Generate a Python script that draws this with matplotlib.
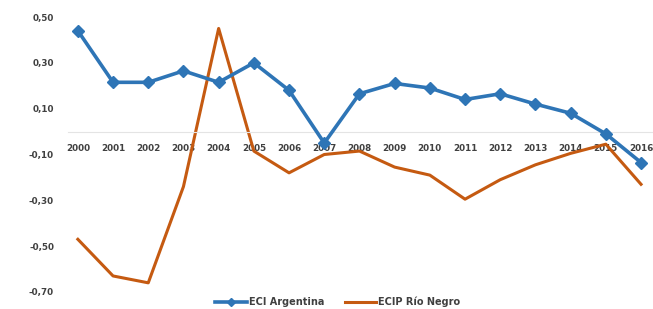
import matplotlib.pyplot as plt
from matplotlib.ticker import FuncFormatter

years = list(range(2000, 2017))
eci_argentina = [0.44, 0.215, 0.215, 0.265, 0.215, 0.30, 0.18, -0.05, 0.165, 0.21,
                 0.19, 0.14, 0.165, 0.12, 0.08, -0.01, -0.135]
ecip_rio_negro = [-0.47, -0.63, -0.66, -0.24, 0.45, -0.085, -0.18, -0.10, -0.085, -0.155,
                  -0.19, -0.295, -0.21, -0.145, -0.095, -0.055, -0.23]
y_ticks = [-0.7, -0.5, -0.3, -0.1, 0.1, 0.3, 0.5]

blue = '#2E75B6'
orange = '#C55A11'
text_color = '#404040'

fig = plt.figure(figsize=(6.53, 3.09), dpi=100)
ax = fig.add_axes([68 / 653, 17 / 309, 585 / 653, 275 / 309])

ax.plot(years, eci_argentina, color=blue, lw=2.6, marker='D', ms=6.5,
        label='ECI Argentina', zorder=3)
ax.plot(years, ecip_rio_negro, color=orange, lw=2.2, label='ECIP Río Negro', zorder=2)

ax.set_xlim(1999.72, 2016.34)
ax.set_ylim(-0.7, 0.5)
ax.set_xticks(years)
ax.set_xticklabels([str(y) for y in years])
ax.set_yticks(y_ticks)
ax.yaxis.set_major_formatter(FuncFormatter(lambda v, p: f"{v:.2f}".replace('.', ',')))

for s in ['top', 'right', 'left']:
    ax.spines[s].set_visible(False)
ax.spines['bottom'].set_position(('data', 0))
ax.spines['bottom'].set_color('#e4e4e4')
ax.spines['bottom'].set_linewidth(0.8)
ax.tick_params(axis='both', length=0, labelsize=6.3, labelcolor=text_color)
ax.tick_params(axis='x', pad=9)
ax.tick_params(axis='y', pad=10)
for lbl in ax.get_xticklabels() + ax.get_yticklabels():
    lbl.set_fontweight('bold')

leg = fig.legend(loc='center', bbox_to_anchor=(338 / 653, 1 - 302 / 309), ncol=2,
                 frameon=False, fontsize=7, handlelength=3.2, columnspacing=2.2,
                 handletextpad=0.2, labelcolor=text_color, markerscale=0.7)
for t in leg.get_texts():
    t.set_fontweight('bold')

fig.savefig('out.png', dpi=100)
